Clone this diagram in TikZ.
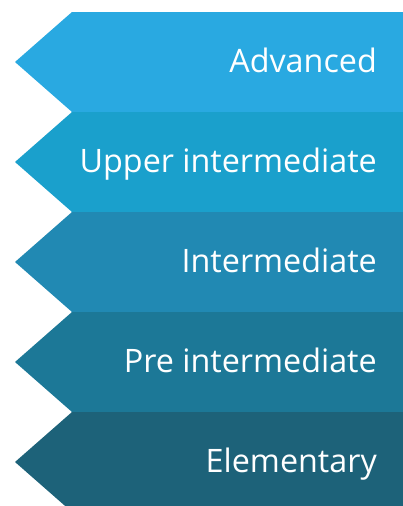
\documentclass[tikz,border=0pt]{standalone}
\usepackage{fontspec}
\setmainfont{Open Sans}
\definecolor{lvl0}{HTML}{29A9E1}
\definecolor{lvl1}{HTML}{1AA0CC}
\definecolor{lvl2}{HTML}{2189B3}
\definecolor{lvl3}{HTML}{1C7897}
\definecolor{lvl4}{HTML}{1D6279}

\begin{document}
\begin{tikzpicture}[x=1pt,y=-1pt,
    lvltext/.style={text=white,inner sep=0pt,anchor=base east,
      font=\fontsize{32.3}{32.3}\selectfont}]
  \clip (0,0) rectangle (403,506);
  \foreach \i/\t in {0/Advanced,1/Upper intermediate,2/Intermediate,
      3/Pre intermediate,4/Elementary}{
    \fill[lvl\i] ({403},{12+100*\i}) -- ({72},{12+100*\i}) -- ({15},{62+100*\i})
      -- ({72},{112+100*\i}) -- ({403},{112+100*\i}) -- cycle;
    \node[lvltext] (lvl-\i) at ({377},{72+100*\i}) {\t};
  }
\end{tikzpicture}
\end{document}
